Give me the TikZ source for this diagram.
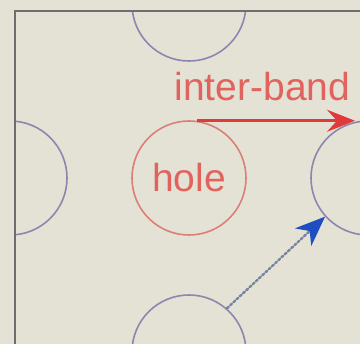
\documentclass[tikz,border=0pt]{standalone}
\usepackage{tikz}
\usetikzlibrary{arrows.meta,positioning,calc}
\usepackage{fontspec}
\setmainfont{Liberation Sans}
\definecolor{Paper}{HTML}{E3E2D5}
\definecolor{Frame}{HTML}{6E6E6E}
\definecolor{Lattice}{HTML}{8D86B0}
\definecolor{HoleRed}{HTML}{DC7F78}
\definecolor{LabelRed}{HTML}{E2625E}
\definecolor{BandRed}{HTML}{E23A3A}
\definecolor{HopBlue}{HTML}{1F4EC2}
\definecolor{HopDots}{HTML}{7A84A0}
\newcommand{\Site}[3]{%
  \node[site] (#1) at (#2,#3) {};%
}

\begin{document}
\begin{tikzpicture}[x=1pt,y=-1pt,
  site/.style={circle,draw=Lattice,line width=1.6pt,minimum size=114pt,inner sep=0pt},
  holesite/.style={site,draw=HoleRed,text=LabelRed,font=\fontsize{39}{39}\selectfont}]
\useasboundingbox (0,0) rectangle (360,344);
\fill[Paper] (0,0) rectangle (360,344);
\begin{scope}
\clip (15,11) rectangle (360,344);
\Site{top}{189}{4}
\Site{left}{10}{178}
\Site{right}{368}{178}
\Site{bottom}{189}{352}
\end{scope}
\node[holesite] (hole) at (189,178) {hole};
\draw[Frame,line width=1.6pt] (15,344) -- (15,11) -- (360,11);
% inter-band hop
\node[text=LabelRed,font=\fontsize{39}{39}\selectfont,anchor=base west] (band) at (171,101) {inter-band};
\draw[BandRed,line width=3.4pt,-{Stealth[length=28pt,width=22pt,inset=10pt]}]
  (hole.82) -- (hole.82 -| right.103);
% intra-band hop
\draw[HopDots,line width=2.4pt,dotted,line cap=round] (bottom.49) -- ($(right.222)!18pt!(bottom.49)$);
\draw[HopBlue,line width=1pt,-{Stealth[length=30pt,width=24pt,inset=9pt]}]
  ($(right.222)!18pt!(bottom.49)$) -- (right.222);
\end{tikzpicture}
\end{document}
